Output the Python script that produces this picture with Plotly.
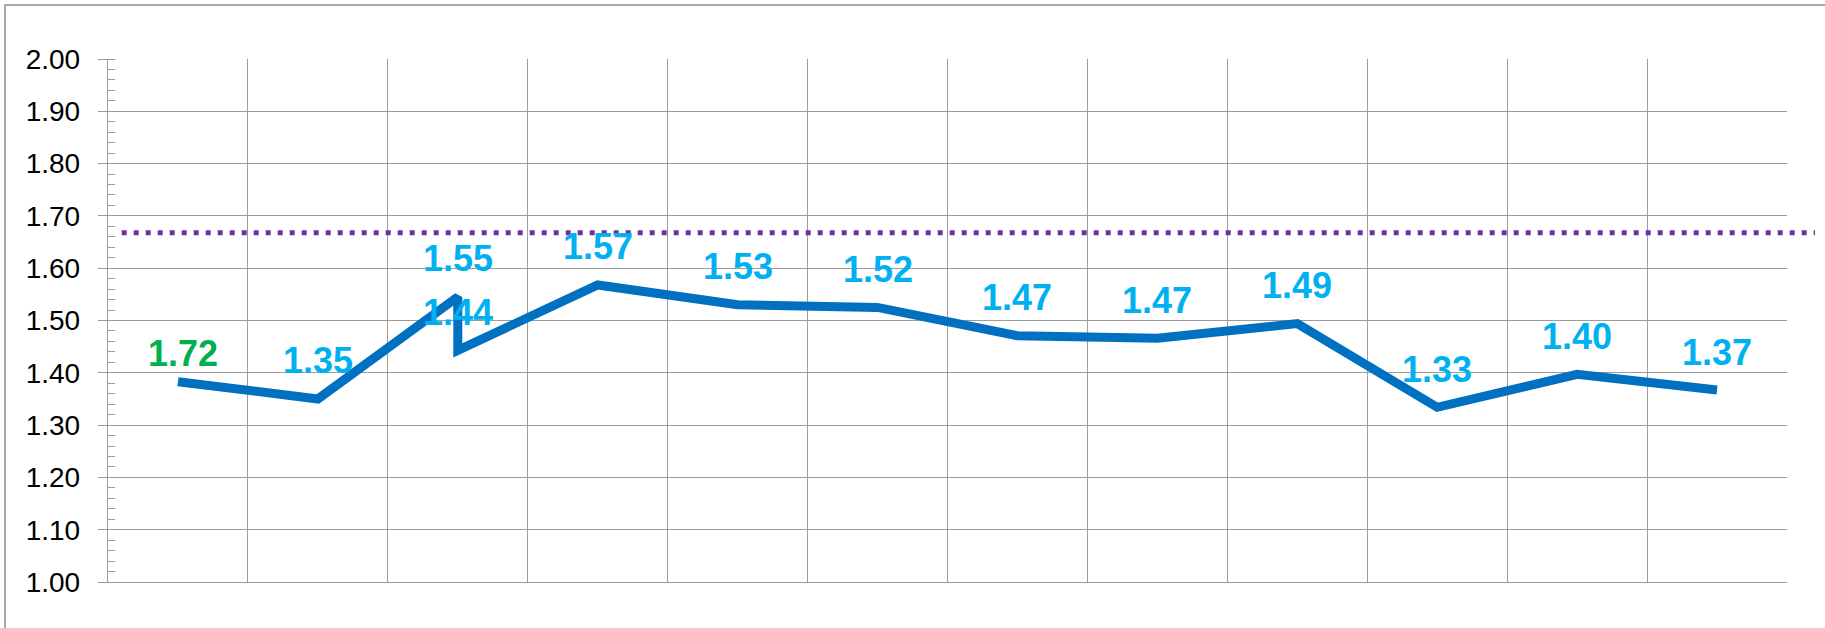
import plotly.graph_objects as go

# ---- data ----
x_pos = [1, 2, 3, 3, 4, 5, 6, 7, 8, 9, 10, 11, 12]
values = [1.383, 1.350, 1.545, 1.443, 1.568, 1.530, 1.525, 1.471, 1.466, 1.494, 1.334, 1.397, 1.367]
labels = ["1.72", "1.35", "1.55", "1.44", "1.57", "1.53", "1.52", "1.47", "1.47", "1.49", "1.33", "1.40", "1.37"]
target_value = 1.668
y_ticks = [1.0, 1.1, 1.2, 1.3, 1.4, 1.5, 1.6, 1.7, 1.8, 1.9, 2.0]
n_categories = 12

# ---- styles ----
label_colors = ["#00B050"] + ["#00B0F0"] * 12
label_yshift = [28] + [38] * 12
label_xshift = [5] + [0] * 12
FONT = "Liberation Sans, Arial, sans-serif"
GRID = "#9C9C9C"

fig = go.Figure()
fig.add_trace(go.Scatter(
    x=x_pos, y=values, mode="lines",
    line=dict(color="#0070C0", width=9),
    hoverinfo="skip", showlegend=False,
))

for xi, yi, t, c, ys, xs in zip(x_pos, values, labels, label_colors, label_yshift, label_xshift):
    fig.add_annotation(
        x=xi, y=yi, text=t, showarrow=False, yshift=ys, xshift=xs,
        yanchor="middle", xanchor="center",
        font=dict(family=FONT, size=36, color=c, weight="bold"),
    )

# target dotted line (extends past the plot area)
fig.add_shape(
    type="line", xref="paper", yref="y",
    x0=(121.7 - 108) / 1679, x1=(1815 - 108) / 1679,
    y0=target_value, y1=target_value,
    line=dict(color="#7030A0", width=5, dash="5px,7px"),
    layer="above",
)

# outer chart frame
fig.add_shape(
    type="rect", xref="paper", yref="paper",
    x0=(5 - 108) / 1679, x1=1.06, y0=-0.3, y1=1 + (59 - 5) / 523,
    line=dict(color="#8C8C8C", width=1.5), layer="below",
)

fig.update_xaxes(
    range=[0.5, n_categories + 0.5],
    tickmode="array", tickvals=[i + 0.5 for i in range(0, n_categories + 1)],
    showticklabels=False, ticks="",
    showgrid=True, gridcolor=GRID, gridwidth=1.4,
    showline=True, linecolor=GRID, linewidth=1.4,
    zeroline=False, fixedrange=True,
)
fig.update_yaxes(
    range=[1.0, 2.0],
    tickmode="array", tickvals=y_ticks, tickformat=".2f",
    ticks="outside", ticklen=9, tickcolor=GRID, tickwidth=1.4,
    ticklabelstandoff=12,
    tickfont=dict(family=FONT, size=28, color="#000000"),
    showgrid=True, gridcolor=GRID, gridwidth=1.4,
    showline=True, linecolor=GRID, linewidth=1.4,
    zeroline=False,
    minor=dict(dtick=0.02, ticks="inside", ticklen=7, tickcolor=GRID, tickwidth=1, showgrid=False),
    fixedrange=True,
)

fig.update_layout(
    width=1825, height=628,
    margin=dict(l=108, r=38, t=59, b=46, pad=0),
    paper_bgcolor="white", plot_bgcolor="white",
    showlegend=False,
)

fig.write_html("out.html", config={"displayModeBar": False})
